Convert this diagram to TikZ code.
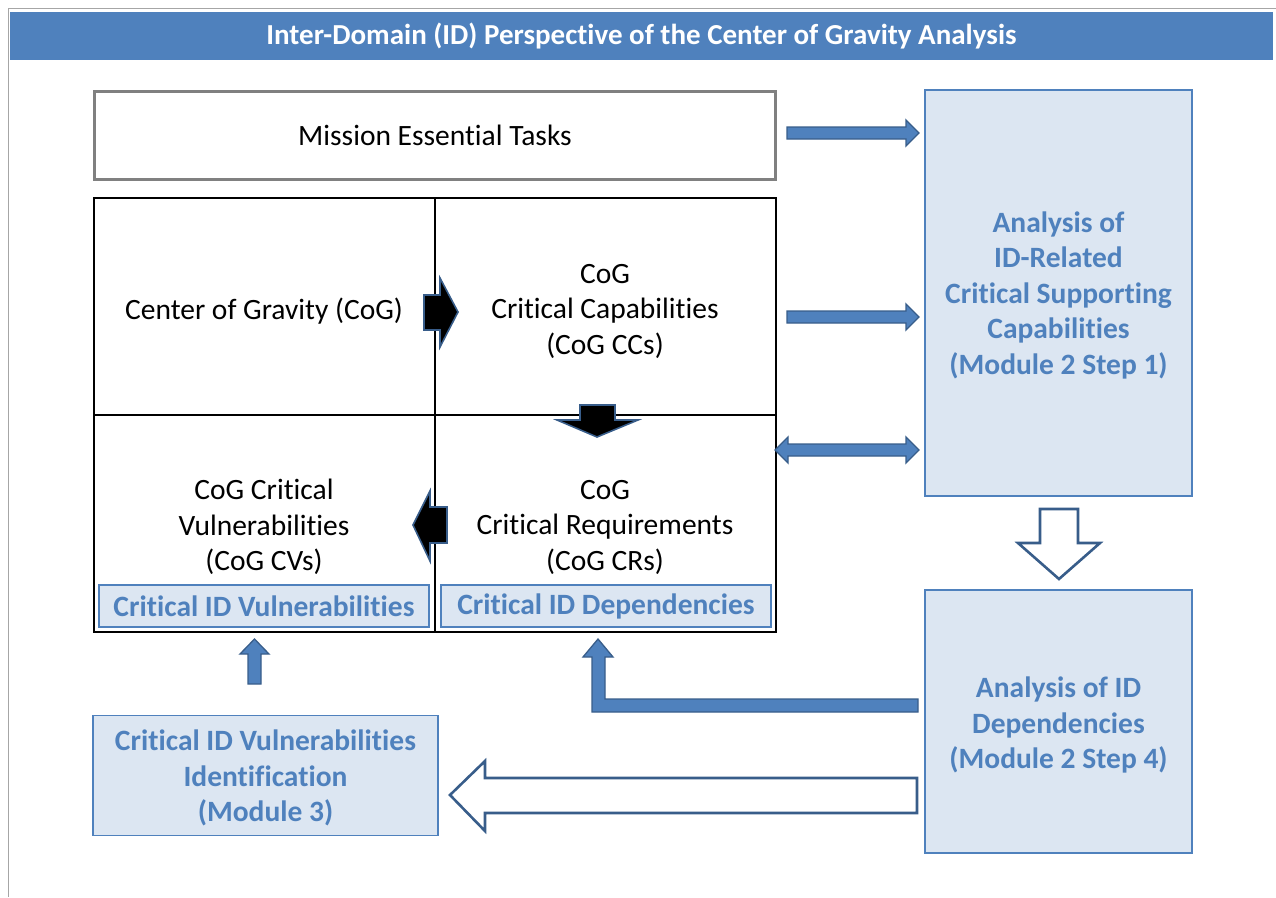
\documentclass[tikz,border=0pt]{standalone}
\usepackage{fontspec}
\setmainfont{Carlito}[Ligatures=NoCommon]
\definecolor{hdr}{HTML}{4F81BD}
\definecolor{dk}{HTML}{385D8A}
\definecolor{lb}{HTML}{DCE6F2}
\definecolor{frame}{HTML}{A6A6A6}
\definecolor{mgray}{HTML}{808080}
\tikzset{
  txt/.style={align=center, text=black, font=\fontsize{29.5}{35.5}\selectfont},
  bluebox/.style={draw=hdr, fill=lb, line width=1.2pt, align=center, text=hdr,
                  font=\fontsize{29.5}{35.5}\selectfont\bfseries, inner sep=0pt},
  bluearrow/.style={fill=hdr, draw=dk, line width=1.3pt, line join=miter},
  blackarrow/.style={fill=black, draw=dk, line width=1.6pt, line join=miter},
  hollowarrow/.style={fill=white, draw=dk, line width=2.6pt, line join=miter},
}
\begin{document}
\begin{tikzpicture}[x=1pt,y=-1pt]
\useasboundingbox (0,0) rectangle (1276,897);
% frame
\draw[frame, line width=1.6pt] (8.5,897) -- (8.5,8.5) -- (1276,8.5);
% title
\node[fill=hdr, minimum width=1263pt, minimum height=48pt, inner sep=0pt,
      text=white, font=\fontsize{29}{32}\selectfont\bfseries] (title) at (641.5,36)
      {Inter-Domain (ID) Perspective of the Center of Gravity Analysis};
% mission essential tasks
\node[txt, draw=mgray, line width=3pt, minimum width=681pt, minimum height=88pt, inner sep=0pt]
      (met) at (435,135) {Mission Essential Tasks};
% grid
\draw[black, line width=1.8pt] (94,198) rectangle (776,632);
\draw[black, line width=1.3pt] (435,198) -- (435,632);
\draw[black, line width=1.3pt] (94,415) -- (776,415);
\node[txt] (cog) at (264,311) {Center of Gravity (CoG)};
\node[txt] (cc) at (605,311) {CoG\\Critical Capabilities\\(CoG CCs)};
\node[txt] (cv) at (264,527) {CoG Critical\\Vulnerabilities\\(CoG CVs)};
\node[txt] (cr) at (605,527) {CoG\\Critical Requirements\\(CoG CRs)};
\node[bluebox, minimum width=330pt, minimum height=42pt] (civ) at (264,606) {\raisebox{-2pt}{Critical ID Vulnerabilities}};
\node[bluebox, minimum width=330pt, minimum height=42pt] (cid) at (606,606) {\raisebox{-2pt}{Critical ID Dependencies}};
% right boxes
\node[bluebox, minimum width=267pt, minimum height=406pt] (ana1) at (1058.5,293) {};
\node[txt, text=hdr, font=\fontsize{29.5}{35.5}\selectfont\bfseries] at (1058.5,295)
      {Analysis of\\ID-Related\\Critical Supporting\\Capabilities\\(Module 2 Step 1)};
\node[bluebox, minimum width=267pt, minimum height=263pt] (ana2) at (1058.5,721.5) {};
\node[txt, text=hdr, font=\fontsize{29.5}{35.5}\selectfont\bfseries] at (1058.5,725)
      {Analysis of ID\\Dependencies\\(Module 2 Step 4)};
\node[bluebox, minimum width=345pt, minimum height=120pt] (civid) at (265.5,775.5) {};
\node[txt, text=hdr, font=\fontsize{29.5}{35.5}\selectfont\bfseries] at (265.5,778)
      {Critical ID Vulnerabilities\\Identification\\(Module 3)};
% blue arrows
\draw[bluearrow] (787,127) -- (906,127) -- (906,120) -- (919,133) -- (906,146) -- (906,139) -- (787,139) -- cycle;
\draw[bluearrow] (787,311) -- (906,311) -- (906,304) -- (919,317) -- (906,330) -- (906,323) -- (787,323) -- cycle;
\draw[bluearrow] (775,450) -- (788,437) -- (788,444) -- (906,444) -- (906,437) -- (919,450) -- (906,463) -- (906,456) -- (788,456) -- (788,463) -- cycle;
\draw[bluearrow] (248,684) -- (248,654) -- (240,654) -- (254.5,639) -- (269,654) -- (261,654) -- (261,684) -- cycle;
\draw[bluearrow] (598,639) -- (613,657) -- (605,657) -- (605,699) -- (918,699) -- (918,712) -- (592,712) -- (592,657) -- (583,657) -- cycle;
% black arrows
\draw[blackarrow] (424,295) -- (440,295) -- (440,278) -- (458,312) -- (440,347) -- (440,330) -- (424,330) -- cycle;
\draw[blackarrow] (580,405) -- (615,405) -- (615,420) -- (638,420) -- (597,437) -- (557,420) -- (580,420) -- cycle;
\draw[blackarrow] (447,507) -- (430,507) -- (430,491) -- (413,525) -- (430,561) -- (430,543) -- (447,543) -- cycle;
% hollow arrows
\draw[hollowarrow] (1040,509) -- (1078,509) -- (1078,543) -- (1100,543) -- (1059,579) -- (1018,543) -- (1040,543) -- cycle;
\draw[hollowarrow] (917,778) -- (485,778) -- (485,761) -- (450,795) -- (485,831) -- (485,813) -- (917,813) -- cycle;
\end{tikzpicture}
\end{document}
